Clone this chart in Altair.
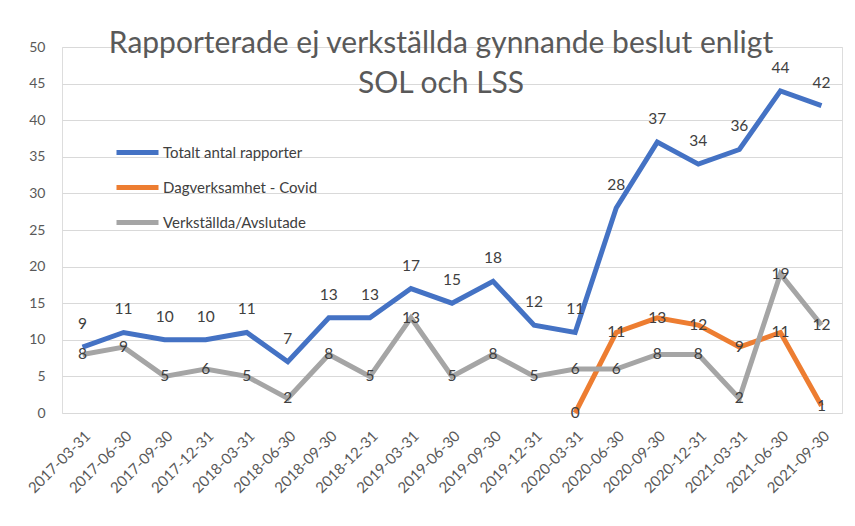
import altair as alt
import pandas as pd

dates = ["2017-03-31", "2017-06-30", "2017-09-30", "2017-12-31", "2018-03-31", "2018-06-30",
         "2018-09-30", "2018-12-31", "2019-03-31", "2019-06-30", "2019-09-30", "2019-12-31",
         "2020-03-31", "2020-06-30", "2020-09-30", "2020-12-31", "2021-03-31", "2021-06-30",
         "2021-09-30"]
totalt = [9, 11, 10, 10, 11, 7, 13, 13, 17, 15, 18, 12, 11, 28, 37, 34, 36, 44, 42]
covid = [None] * 12 + [0, 11, 13, 12, 9, 11, 1]
verkstallda = [8, 9, 5, 6, 5, 2, 8, 5, 13, 5, 8, 5, 6, 6, 8, 8, 2, 19, 12]
y_ticks = [0, 5, 10, 15, 20, 25, 30, 35, 40, 45, 50]

series_names = ["Totalt antal rapporter", "Dagverksamhet - Covid", "Verkställda/Avslutade"]
series_colors = ["#4472C4", "#ED7D31", "#A5A5A5"]

rows = []
for name, vals in zip(series_names, [totalt, covid, verkstallda]):
    for d, v in zip(dates, vals):
        if v is not None:
            rows.append({"datum": d, "serie": name, "antal": v})
df = pd.DataFrame(rows)

FONT = "Lato"

x = alt.X("datum:O", sort=dates, title=None,
          scale=alt.Scale(paddingInner=1, paddingOuter=0.5),
          axis=alt.Axis(labelAngle=-45, labelFontSize=15, labelColor="#595959",
                        labelFont=FONT, ticks=False, domain=False, labelPadding=15))
y = alt.Y("antal:Q", title=None,
          scale=alt.Scale(domain=[0, 50], nice=False),
          axis=alt.Axis(values=y_ticks, labelFontSize=14, labelColor="#595959",
                        labelFont=FONT, ticks=False, domain=False, labelPadding=17,
                        gridColor="#D9D9D9", gridWidth=1, labelOverlap=False))
color = alt.Color("serie:N", sort=series_names,
                  scale=alt.Scale(domain=series_names, range=series_colors),
                  legend=alt.Legend(title=None, orient="none", legendX=66, legendY=96,
                                    symbolType="M-3,0H3", symbolSize=196,
                                    symbolStrokeWidth=5, labelFontSize=15,
                                    labelColor="#404040", labelFont=FONT,
                                    rowPadding=14, labelOffset=16))

base = alt.Chart(df)

lines = base.mark_line(strokeWidth=5, strokeCap="butt", strokeJoin="miter").encode(
    x=x, y=y, color=color, order=alt.Order("datum:O"))

labels_top = base.transform_filter(alt.datum.serie == series_names[0]).mark_text(
    dy=-23, fontSize=15.5, color="#404040", font=FONT).encode(
    x=x, y=y, text="antal:Q")

labels_center = base.transform_filter(alt.datum.serie != series_names[0]).mark_text(
    fontSize=15.5, color="#404040", font=FONT, baseline="middle").encode(
    x=x, y=y, text="antal:Q")

chart = alt.layer(lines, labels_top, labels_center).properties(
    width=780, height=366,
    title=alt.TitleParams(
        text=["Rapporterade ej verkställda gynnande beslut enligt", "SOL och LSS"],
        fontSize=30, font=FONT, fontWeight="normal", color="#595959",
        anchor="middle", baseline="top", lineHeight=40, dy=59, dx=-11, offset=0),
    autosize=alt.AutoSizeParams(type="none"),
    padding={"left": 54, "top": 39, "right": 5, "bottom": 105},
).configure_view(stroke=None).configure(background="white")

chart.save("out.html", embed_options={"renderer": "svg", "actions": False})
